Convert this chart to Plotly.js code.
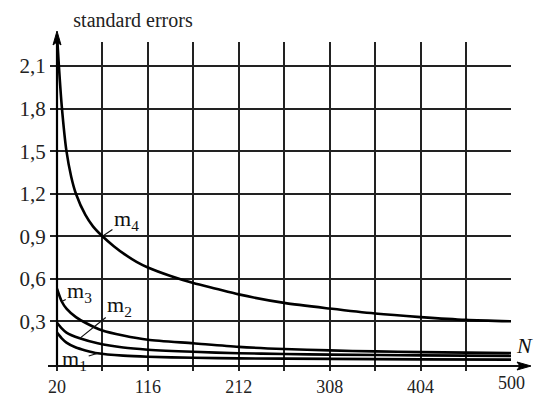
<!DOCTYPE html>
<html><head><meta charset="utf-8">
<script src="https://cdn.plot.ly/plotly-3.0.1.min.js"></script>
<style>html,body{margin:0;padding:0;background:#fff}#chart{width:535px;height:396px}</style>
</head><body><div id="chart"></div>
<script>
// curve data
const n4 = [20,22,25,30,35,40,50,58,68,80,92,104,116,140,164,188,212,260,308,356,404,452,500];
const m4 = [2.32,2.1,1.82,1.5,1.32,1.2,1.05,0.97,0.9,0.83,0.77,0.72,0.68,0.62,0.57,0.53,0.49,0.43,0.39,0.355,0.33,0.31,0.30];
const n3 = [20,25,30,40,50,68,90,116,164,212,260,308,356,404,452,500];
const m3 = [0.53,0.44,0.39,0.33,0.29,0.235,0.2,0.17,0.145,0.12,0.105,0.095,0.088,0.083,0.079,0.076];
const n2 = [20,25,30,44,63,90,116,164,212,260,308,404,500];
const m2 = [0.29,0.25,0.22,0.18,0.145,0.115,0.1,0.085,0.075,0.07,0.065,0.06,0.056];
const n1 = [20,25,30,40,50,63,90,116,164,212,308,404,500];
const m1 = [0.22,0.18,0.15,0.115,0.095,0.075,0.058,0.05,0.043,0.039,0.035,0.032,0.03];

// axes ticks
const xTickVals = [20,116,212,308,404];
const xTickText = ['20','116','212','308','404'];
const xGridStart = 20, xGridStep = 48;
const xLastLabel = '500';
const yTicks = [0.3,0.6,0.9,1.2,1.5,1.8,2.1];
const yTickText = ['0,3','0,6','0,9','1,2','1,5','1,8','2,1'];

const serif = 'Liberation Serif';
const lineStyle = {color:'#000', width:2.6, shape:'spline', smoothing:0.7};

const traces = [
  {x:n4, y:m4, mode:'lines', line:lineStyle, hoverinfo:'none'},
  {x:n3, y:m3, mode:'lines', line:lineStyle, hoverinfo:'none'},
  {x:n2, y:m2, mode:'lines', line:lineStyle, hoverinfo:'none'},
  {x:n1, y:m1, mode:'lines', line:lineStyle, hoverinfo:'none'}
];

const labFont = {family:serif, size:22, color:'#111'};
const leader = {showarrow:true, arrowhead:0, arrowwidth:1.2, arrowcolor:'#111', xref:'x', yref:'y', font:labFont};
const gridCol = '#222';

// pixel helpers for axis arrows (paper units)
const W = 454, H = 324;
const px = v => (v - 57) / W;
const py = v => (366 - v) / H;

const layout = {
  width:535, height:396,
  margin:{l:57, r:24, t:42, b:30},
  paper_bgcolor:'#fff', plot_bgcolor:'#fff',
  showlegend:false,
  font:{family:serif},
  title:{text:'standard errors', font:{family:serif, size:20, color:'#222'},
         x:133/535, xanchor:'center', xref:'container', y:1-20/396, yanchor:'middle', yref:'container'},
  xaxis:{range:[20,499.6], tickvals:xTickVals, ticktext:xTickText, showgrid:true,
         gridcolor:gridCol, gridwidth:2, zeroline:false, showline:false,
         ticks:'outside', ticklen:4, tickwidth:2, tickcolor:gridCol,
         minor:{tick0:xGridStart, dtick:xGridStep, showgrid:true, gridcolor:gridCol, gridwidth:2,
                ticks:'outside', ticklen:4, tickwidth:2, tickcolor:gridCol},
         tickfont:{family:serif, size:18, color:'#222'}, fixedrange:true},
  yaxis:{range:[-0.015,2.27], tickvals:yTicks, ticktext:yTickText, showgrid:true,
         gridcolor:gridCol, gridwidth:2, zeroline:false, showline:false,
         ticks:'outside', ticklen:6, tickwidth:2, tickcolor:gridCol,
         tickfont:{family:serif, size:21, color:'#222'}, fixedrange:true},
  shapes:[
    {type:'line', xref:'paper', yref:'paper', x0:0, x1:0, y0:0, y1:py(42), line:{color:'#000', width:2.2}},
    {type:'path', xref:'paper', yref:'paper', fillcolor:'#000', line:{color:'#000', width:1},
     path:`M ${px(57)} ${py(31)} L ${px(53)} ${py(45)} L ${px(57)} ${py(42)} L ${px(61)} ${py(45)} Z`},
    {type:'line', xref:'paper', yref:'paper', x0:px(48), x1:px(522), y0:0, y1:0, line:{color:'#111', width:2}},
    {type:'path', xref:'paper', yref:'paper', fillcolor:'#000', line:{color:'#000', width:1},
     path:`M ${px(531)} ${py(366)} L ${px(517)} ${py(362)} L ${px(520)} ${py(366)} L ${px(517)} ${py(370)} Z`}
  ],
  annotations:[
    {xref:'paper', yref:'paper', x:1, y:0, xanchor:'center', yanchor:'top', yshift:-5, text:xLastLabel,
     showarrow:false, font:{family:serif, size:18, color:'#222'}},
    {xref:'paper', yref:'paper', x:px(524), y:py(345), xanchor:'center', yanchor:'middle', text:'<i>N</i>',
     showarrow:false, font:{family:serif, size:22, color:'#111'}},
    Object.assign({x:68, y:0.9, text:'m<sub>4</sub>', ax:24, ay:-16}, leader),
    Object.assign({x:25, y:0.44, text:'m<sub>3</sub>', ax:18, ay:-9}, leader),
    Object.assign({x:44, y:0.18, text:'m<sub>2</sub>', ax:40, ay:-32}, leader),
    Object.assign({x:63, y:0.075, text:'m<sub>1</sub>', ax:-23, ay:7}, leader)
  ]
};

Plotly.newPlot('chart', traces, layout, {staticPlot:true, displayModeBar:false});
</script>
</body></html>
